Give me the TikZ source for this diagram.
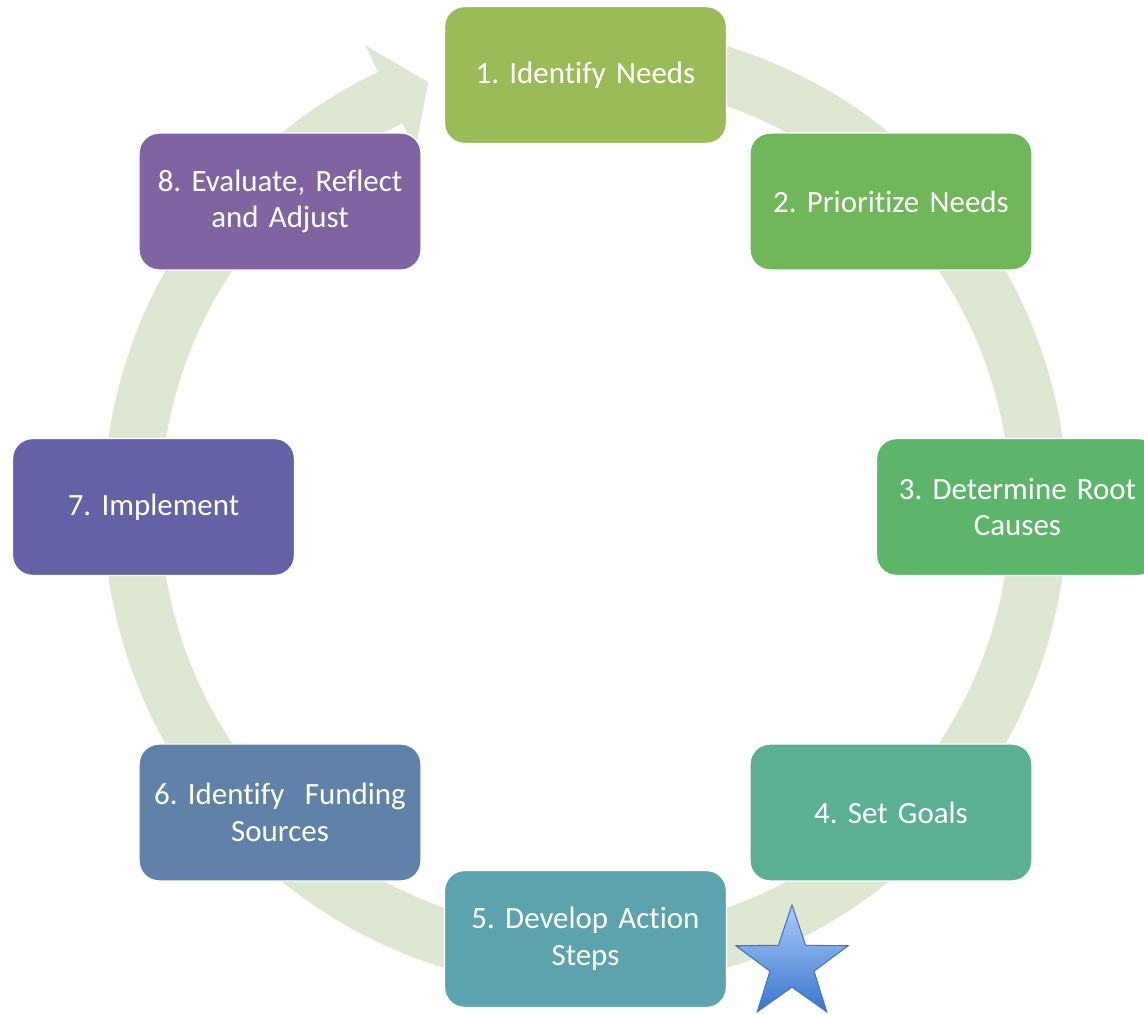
\documentclass[tikz,border=0pt]{standalone}
\usepackage{fontspec}
\setmainfont{Carlito}[Ligatures=NoCommon]
\usepackage{tikz}
\usetikzlibrary{positioning}
\usetikzlibrary{shapes.geometric}
\frenchspacing

\definecolor{ring}{HTML}{DEE7D1}
\definecolor{cone}{HTML}{9BBB59}
\definecolor{ctwo}{HTML}{71B65A}
\definecolor{cthree}{HTML}{5DB46B}
\definecolor{cfour}{HTML}{5BB093}
\definecolor{cfive}{HTML}{5DA3AD}
\definecolor{csix}{HTML}{6082A8}
\definecolor{cseven}{HTML}{6462A6}
\definecolor{ceight}{HTML}{8064A2}

\begin{document}
\begin{tikzpicture}[
    stepnode/.style={draw=white,line width=0.8pt,rounded corners=0.4cm,
      minimum width=5.64cm,minimum height=2.74cm,text width=5.3cm,
      align=center,text=white,font=\fontsize{17.6pt}{20.8pt}\selectfont}
    ]

    \useasboundingbox (-11.71,-10.14) rectangle (11.17,10.14);
    \clip (-11.71,-10.14) rectangle (11.17,10.14);

    % circular band with its arrow head
    \fill[ring] (80:9.64) arc[start angle=80,end angle=-244.5,radius=9.64]
      -- (-244.5:10.23) -- (-249.7:9.06) -- (-244.5:7.91)
      -- (-244.5:8.5) arc[start angle=-244.5,end angle=80,radius=8.5] -- cycle;

    \node[stepnode, fill=cone] (identify) at (90:8.64) {1. Identify Needs};
    \node[stepnode, fill=ctwo] (prioritize) at (45:8.64) {2. Prioritize Needs};
    \node[stepnode, fill=cthree] (causes) at (0:8.64) {3. Determine Root\\Causes};
    \node[stepnode, fill=cfour] (goals) at (-45:8.64) {4. Set Goals};
    \node[stepnode, fill=cfive] (action) at (-90:8.64) {5. Develop Action\\Steps};
    \node[stepnode, fill=csix] (funding) at (-135:8.64) {6. Identify\ \ Funding\\Sources};
    \node[stepnode, fill=cseven] (implement) at (180:8.64) {7. Implement};
    \node[stepnode, fill=ceight] (evaluate) at (135:8.64) {8. Evaluate, Reflect\\and Adjust};

    \node[star, star points=5, star point ratio=2.55, minimum size=2.36cm, inner sep=0pt,
      top color={rgb,255:red,170;green,204;blue,250}, bottom color={rgb,255:red,58;green,118;blue,204},
      draw={rgb,255:red,70;green,114;blue,190}, line width=0.6pt] (star) at (4.13,-9.14) {};

  \end{tikzpicture}
\end{document}
